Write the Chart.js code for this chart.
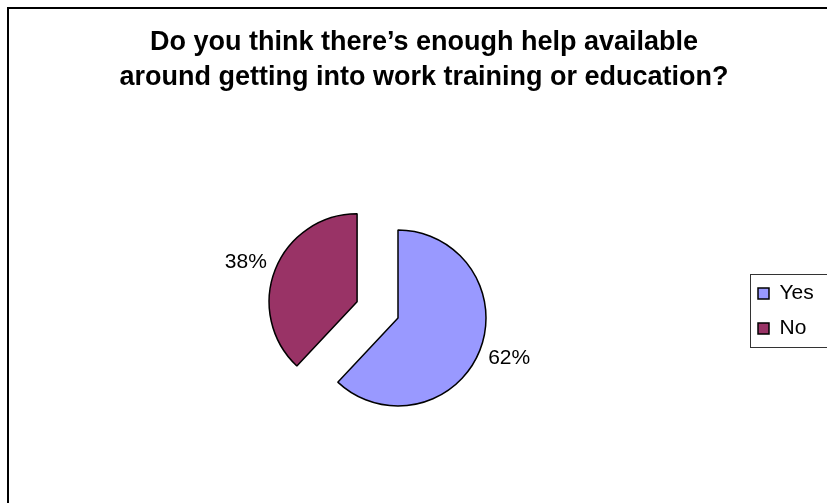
<!DOCTYPE html>
<html lang="en">
<head>
<meta charset="utf-8">
<title>Help getting into work, training or education</title>
<script src="https://cdn.jsdelivr.net/npm/chart.js@4.4.1/dist/chart.umd.min.js"></script>
<style>
  html, body { margin: 0; padding: 0; background: #fff; overflow: hidden; }
  #wrap { position: relative; width: 840px; height: 520px; }
</style>
</head>
<body>
<div id="wrap"><canvas id="chart-help" width="840" height="520"></canvas></div>
<script>
// Respuestas de la encuesta (porcentaje)
const answerLabels = ["Yes", "No"];
const answerValues = [62, 38];
const chartTitle = [
  "Do you think there\u2019s enough help available",
  "around getting into work training or education?",
];

const FONT = '"Liberation Sans", Arial, Helvetica, sans-serif';
Chart.defaults.font.family = FONT;
Chart.defaults.color = "#000";

// marco exterior del grafico
const framePlugin = {
  id: "frame",
  beforeDraw(chart) {
    const ctx = chart.ctx;
    ctx.save();
    ctx.fillStyle = "#fff";
    ctx.fillRect(0, 0, chart.width, chart.height);
    ctx.strokeStyle = "#000";
    ctx.lineWidth = 2;
    ctx.strokeRect(8, 8, chart.width, chart.height);
    ctx.restore();
  },
};

// la leyenda se reserva poco ancho (para centrar el titulo), pero el texto no se recorta
const legendWiden = {
  id: "legendWiden",
  afterLayout(chart) {
    const legend = chart.legend;
    if (!legend) return;
    legend.right = chart.width;
    legend.width = legend.right - legend.left;
  },
};

// Chart.js agranda el radio de un arco desplazado y lo estrecha un poco;
// lo dejamos con el mismo radio y angulos que el resto
const offsetRadiusFix = {
  id: "offsetRadiusFix",
  afterDatasetUpdate(chart, args) {
    args.meta.data.forEach((arc) => {
      const shift = ((arc.options && arc.options.offset) || 0) / 4;
      if (!shift) return;
      const fix = 1 - Math.sin(Math.min(Math.PI, arc.circumference));
      const grow = shift * fix;
      const drawnRadius = arc.outerRadius;
      arc.outerRadius -= grow;
      const narrow = grow / (2 * Math.PI * drawnRadius);
      arc.startAngle -= narrow;
      arc.endAngle += narrow;
    });
  },
};

// etiquetas de porcentaje fuera de cada porcion
const sliceLabels = {
  id: "sliceLabels",
  afterDatasetsDraw(chart) {
    const meta = chart.getDatasetMeta(0);
    const values = chart.data.datasets[0].data;
    const total = values.reduce((a, b) => a + b, 0);
    const ctx = chart.ctx;
    ctx.save();
    ctx.font = "21px " + FONT;
    ctx.fillStyle = "#000";
    ctx.textBaseline = "middle";
    meta.data.forEach((arc, i) => {
      const mid = (arc.startAngle + arc.endAngle) / 2;
      const dx = Math.cos(mid);
      const dy = Math.sin(mid);
      const shift = ((arc.options && arc.options.offset) || 0) / 4;
      const fix = 1 - Math.sin(Math.min(Math.PI, arc.circumference));
      const r = arc.outerRadius + shift * fix + shift + 9;
      ctx.textAlign = dx >= 0 ? "left" : "right";
      ctx.fillText(
        Math.round((values[i] / total) * 100) + "%",
        arc.x + dx * r,
        arc.y + dy * r + dy * 11
      );
    });
    ctx.restore();
  },
};

// recuadro alrededor de la leyenda
const legendBox = {
  id: "legendBox",
  afterDraw(chart) {
    const boxes = chart.legend && chart.legend.legendHitBoxes;
    if (!boxes || !boxes.length) return;
    const first = boxes[0];
    const last = boxes[boxes.length - 1];
    const x = Math.round(first.left - 8) + 0.5;
    const y = Math.round(first.top - 9) + 0.5;
    const h = Math.round(last.top + last.height + 8) - Math.round(first.top - 9);
    const ctx = chart.ctx;
    ctx.save();
    ctx.strokeStyle = "#333";
    ctx.lineWidth = 1;
    ctx.strokeRect(x, y, chart.width, h);
    ctx.restore();
  },
};

new Chart(document.getElementById("chart-help"), {
  type: "pie",
  data: {
    labels: answerLabels,
    datasets: [
      {
        data: answerValues,
        backgroundColor: ["#9999FF", "#993366"],
        borderColor: "#000",
        borderWidth: 1.5,
        offset: [0, 176],
        radius: 88,
        cutout: "0%",
        clip: false,
      },
    ],
  },
  options: {
    responsive: false,
    animation: false,
    events: [],
    layout: { padding: { left: 52, right: 44, top: 0, bottom: 153 } },
    plugins: {
      title: {
        display: true,
        text: chartTitle,
        color: "#000",
        font: { size: 27, weight: "bold", lineHeight: 1.3 },
        padding: { top: 25, bottom: 173.8 },
      },
      legend: {
        position: "right",
        align: "start",
        fullSize: false,
        maxWidth: 52,
        labels: {
          boxWidth: 11,
          boxHeight: 11,
          padding: 14,
          color: "#000",
          font: { size: 21 },
        },
      },
      tooltip: { enabled: false },
    },
  },
  plugins: [framePlugin, legendWiden, offsetRadiusFix, sliceLabels, legendBox],
});
</script>
</body>
</html>
